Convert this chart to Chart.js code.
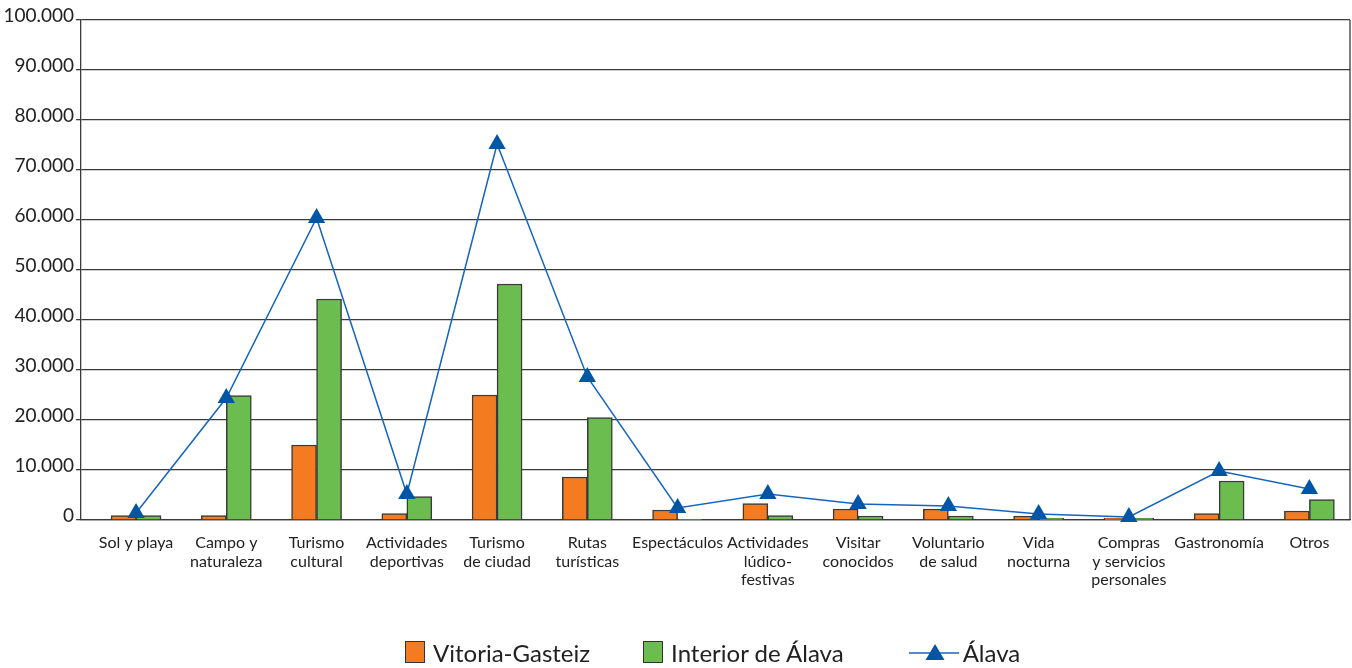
<!DOCTYPE html>
<html lang="es">
<head>
<meta charset="utf-8">
<script src="https://cdn.jsdelivr.net/npm/chart.js@4.4.1/dist/chart.umd.min.js"></script>
<style>
  html, body { margin: 0; background: #fff; overflow: hidden; }
  #wrap { position: relative; width: 1352px; height: 668px; }
  #chart { display: block; }
  #legend {
    position: absolute; left: 405px; top: 641px; height: 22px;
    display: flex; align-items: center;
    font: 24px Lato, sans-serif; color: #222;
  }
  .item { display: flex; align-items: center; }
  .box { width: 18px; height: 20px; border: 1.5px solid #333; margin-right: 8px; }
</style>
</head>
<body>
<div id="wrap">
  <canvas id="chart" width="1352" height="668"></canvas>
  <div id="legend"></div>
</div>
<script>
// categorías del eje X
const categories = [
  ["Sol y playa"],
  ["Campo y", "naturaleza"],
  ["Turismo", "cultural"],
  ["Actividades", "deportivas"],
  ["Turismo", "de ciudad"],
  ["Rutas", "turísticas"],
  ["Espectáculos"],
  ["Actividades", "lúdico-", "festivas"],
  ["Visitar", "conocidos"],
  ["Voluntario", "de salud"],
  ["Vida", "nocturna"],
  ["Compras", "y servicios", "personales"],
  ["Gastronomía"],
  ["Otros"]
];

const vitoria = [900, 900, 15000, 1300, 25000, 8600, 2000, 3300, 2200, 2200, 800, 400, 1300, 1800];
const interior = [900, 24900, 44200, 4700, 47200, 20500, 150, 900, 800, 800, 400, 400, 7800, 4100];
const alava = [1400, 24400, 60400, 5200, 75200, 28600, 2400, 5200, 3200, 2800, 1200, 600, 9800, 6200];

const yTicks = [0, 10000, 20000, 30000, 40000, 50000, 60000, 70000, 80000, 90000, 100000];

const toPoints = (arr) => arr.map((v, i) => ({ x: i, y: v }));
const fmt = (v) => String(v).replace(/\B(?=(\d{3})+(?!\d))/g, ".");

const gridColor = "#3a3a3a";
const textColor = "#222";

// borde derecho del área del gráfico
const rightBorder = {
  id: "rightBorder",
  afterDraw(chart) {
    const { ctx, chartArea } = chart;
    ctx.save();
    ctx.strokeStyle = gridColor;
    ctx.lineWidth = 1.3;
    ctx.beginPath();
    ctx.moveTo(chartArea.right, chartArea.top);
    ctx.lineTo(chartArea.right, chartArea.bottom);
    ctx.stroke();
    ctx.restore();
  },
};

let ctx = document.getElementById("chart").getContext("2d");
let grafico = new Chart(ctx, {
  type: "bar",
  data: {
    datasets: [
      {
        type: "line",
        label: "Álava",
        data: toPoints(alava),
        borderColor: "#1565c0",
        borderWidth: 1.5,
        pointStyle: "triangle",
        pointRadius: 10,
        pointBackgroundColor: "#0055a5",
        pointBorderColor: "#0055a5",
        pointBorderWidth: 0,
        tension: 0,
        clip: false,
        order: 0,
      },
      {
        label: "Vitoria-Gasteiz",
        data: toPoints(vitoria),
        backgroundColor: "#f47b20",
        borderColor: "#3a3a3a",
        borderWidth: 1.5,
        barThickness: 25,
        order: 1,
      },
      {
        label: "Interior de Álava",
        data: toPoints(interior),
        backgroundColor: "#6cbd4f",
        borderColor: "#3a3a3a",
        borderWidth: 1.5,
        barThickness: 25,
        order: 2,
      },
    ],
  },
  plugins: [rightBorder],
  options: {
    responsive: false,
    animation: false,
    layout: { autoPadding: false, padding: { top: 20, right: 2, bottom: 0, left: 0 } },
    plugins: {
      legend: { display: false },
      tooltip: { enabled: false },
    },
    scales: {
      x: {
        type: "linear",
        offset: false,
        bounds: "data",
        min: -0.61,
        max: 13.45,
        afterBuildTicks: (scale) => {
          scale.ticks = categories.map((c, i) => ({ value: i }));
        },
        grid: { display: false },
        border: { display: true, color: gridColor, width: 1.3 },
        ticks: {
          autoSkip: false,
          maxRotation: 0,
          padding: 6,
          color: textColor,
          font: { family: "Lato", size: 16, lineHeight: 1.15 },
          callback: (v) => (Number.isInteger(v) && categories[v] ? categories[v] : ""),
        },
        afterFit: (scale) => {
          scale.height = 148;
          scale.paddingLeft = 0;
          scale.paddingRight = 0;
        },
      },
      y: {
        min: 0,
        max: 100000,
        position: "left",
        afterBuildTicks: (scale) => {
          scale.ticks = yTicks.map((v) => ({ value: v }));
        },
        grid: {
          color: gridColor,
          lineWidth: 1.3,
          drawTicks: true,
          tickLength: 5,
        },
        border: { display: true, color: gridColor, width: 1.3 },
        ticks: {
          padding: 2,
          labelOffset: -4,
          color: textColor,
          font: { family: "Lato", size: 19 },
          callback: (v) => fmt(v),
        },
        afterFit: (scale) => {
          scale.width = 81;
        },
      },
    },
  },
});

// leyenda en HTML a partir de los datasets
function createLegend() {
  const legend = document.getElementById("legend");
  const ds = grafico.data.datasets;
  const order = [1, 2, 0];
  const gaps = [53, 65, 0];
  let html = "";
  order.forEach((idx, n) => {
    const d = ds[idx];
    let icon;
    if (d.type === "line") {
      icon = `<svg width="50" height="22" style="margin-right:4px">
        <line x1="0" y1="12" x2="50" y2="12" stroke="${d.borderColor}" stroke-width="1.5"/>
        <polygon points="26,3 35.5,19 16.5,19" fill="${d.pointBackgroundColor}"/>
      </svg>`;
    } else {
      icon = `<span class="box" style="background:${d.backgroundColor}"></span>`;
    }
    html += `<div class="item" style="margin-right:${gaps[n]}px">${icon}<span>${d.label}</span></div>`;
  });
  legend.innerHTML = html;
}
createLegend();
</script>
</body>
</html>
